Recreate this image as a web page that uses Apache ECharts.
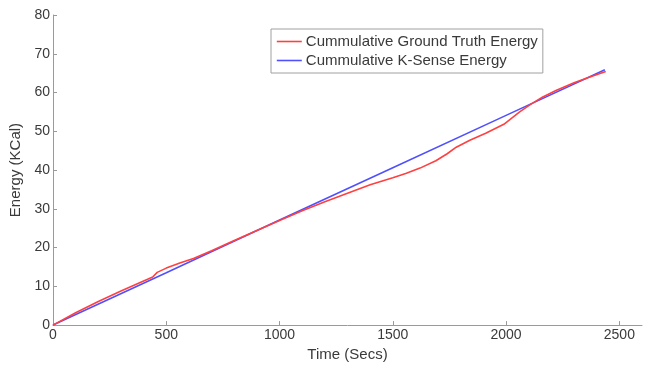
<!DOCTYPE html>
<html>
<head>
<meta charset="utf-8">
<script src="https://cdn.jsdelivr.net/npm/echarts@6/dist/echarts.min.js"></script>
<style>html,body{margin:0;padding:0;background:#fff;}#c{width:646px;height:367px;}</style>
</head>
<body>
<div id="c"></div>
<script>
// Data
const truthTime   = [0, 100, 200, 300, 400, 440, 460, 500, 560, 620, 700, 800, 900, 1000, 1100, 1200, 1300, 1400, 1500, 1560, 1620, 1690, 1740, 1780, 1840, 1910, 1990, 2060, 2110, 2160, 2220, 2300, 2370, 2440];
const truthEnergy = [0, 3.2, 6.1, 8.8, 11.4, 12.4, 13.6, 14.7, 16.0, 17.2, 19.2, 21.8, 24.4, 27.0, 29.5, 31.8, 34.0, 36.2, 38.0, 39.2, 40.5, 42.4, 44.2, 45.9, 47.7, 49.5, 51.8, 55.0, 57.0, 58.8, 60.5, 62.5, 64.0, 65.4];
const ksenseTime   = [0, 500, 1000, 1500, 2000, 2436];
const ksenseEnergy = [0, 13.5, 27.1, 40.6, 54.1, 65.9];
const xTicks = [0, 500, 1000, 1500, 2000, 2500];
const seriesNames = ['Cummulative Ground Truth Energy', 'Cummulative K-Sense Energy'];

const zip = (a, b) => a.map((v, i) => [v, b[i]]);
const txt = '#3a3a3a';
const axisCol = '#9a9a9a';
const chart = echarts.init(document.getElementById('c'));
chart.setOption({
  animation: false,
  backgroundColor: '#fff',
  grid: { left: 53, top: 15, right: 4, bottom: 35 },
  legend: {
    orient: 'vertical', left: 271, top: 29,
    backgroundColor: '#fff', borderColor: '#a0a0a0', borderWidth: 1, borderRadius: 0,
    padding: [5, 5, 5, 5], itemWidth: 25, itemHeight: 14, itemGap: 4,
    itemStyle: { opacity: 0 },
    lineStyle: { width: 1.6 },
    textStyle: { fontFamily: 'Liberation Sans, Arial', fontSize: 15, color: txt, padding: [0, 0, 0, -1] },
    data: seriesNames
  },
  xAxis: {
    type: 'value', min: 0, max: 2600,
    name: 'Time (Secs)', nameLocation: 'middle', nameGap: 17,
    nameTextStyle: { fontFamily: 'Liberation Sans, Arial', fontSize: 15, color: txt },
    axisLine: { show: true, lineStyle: { color: axisCol, width: 1 } },
    axisTick: { inside: true, length: 4, lineStyle: { color: axisCol }, customValues: xTicks },
    axisLabel: { customValues: xTicks, margin: 3, fontFamily: 'Liberation Sans, Arial', fontSize: 14, color: txt,
      formatter: v => String(v) },
    splitLine: { show: false }
  },
  yAxis: {
    type: 'value', min: 0, max: 80, interval: 10,
    name: 'Energy (KCal)', nameLocation: 'middle', nameGap: 23,
    nameTextStyle: { fontFamily: 'Liberation Sans, Arial', fontSize: 15, color: txt },
    axisLine: { show: true, lineStyle: { color: axisCol, width: 1 } },
    axisTick: { inside: true, length: 4, lineStyle: { color: axisCol } },
    axisLabel: { margin: 3, fontFamily: 'Liberation Sans, Arial', fontSize: 14, color: txt,
      formatter: v => String(v) },
    splitLine: { show: false }
  },
  series: [
    { name: seriesNames[0], type: 'line', data: zip(truthTime, truthEnergy), symbol: 'none',
      lineStyle: { color: '#ff4040', width: 1.6 }, itemStyle: { color: '#ff4040' }, z: 3 },
    { name: seriesNames[1], type: 'line', data: zip(ksenseTime, ksenseEnergy), symbol: 'none',
      lineStyle: { color: '#5050ff', width: 1.6 }, itemStyle: { color: '#5050ff' }, z: 2 }
  ]
});
</script>
</body>
</html>
